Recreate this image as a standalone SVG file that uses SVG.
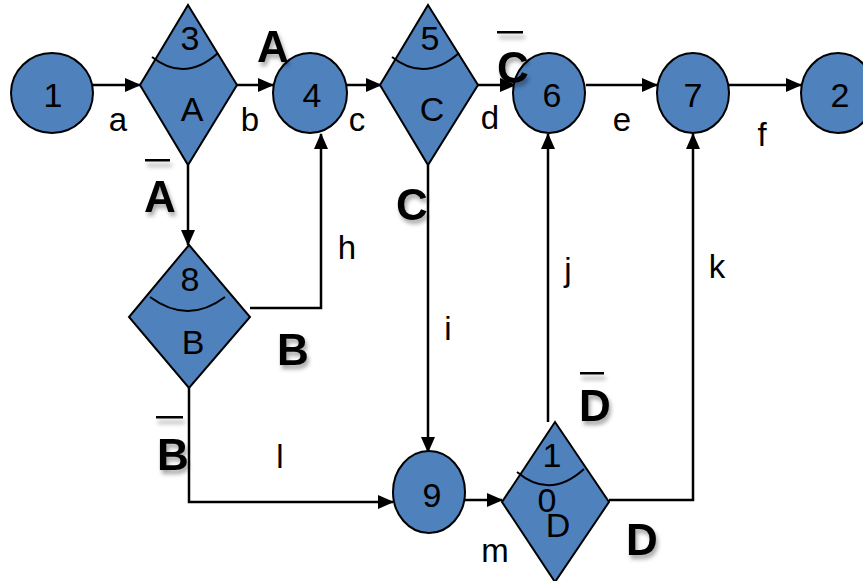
<svg xmlns="http://www.w3.org/2000/svg" width="863" height="581" viewBox="0 0 863 581">
<defs>
<marker id="arr" markerUnits="userSpaceOnUse" markerWidth="16" markerHeight="14" refX="15" refY="7" orient="auto">
<path d="M0,0 L16,7 L0,14 Z" fill="#000"/>
</marker>
<filter id="sh" x="-30%" y="-30%" width="160%" height="160%">
<feDropShadow dx="2" dy="4" stdDeviation="2" flood-color="#000" flood-opacity="0.35"/>
</filter>
<filter id="shb" filterUnits="userSpaceOnUse" x="0" y="0" width="863" height="581">
<feDropShadow dx="2" dy="5" stdDeviation="2" flood-color="#000" flood-opacity="0.35"/>
</filter>
<style>
.n{fill:#4F81BD;stroke:#000;stroke-width:2}
.arc{fill:none;stroke:#000;stroke-width:2}
.t{font-family:"Liberation Sans",Arial,sans-serif;font-size:34px;fill:#000;text-anchor:middle}
.lb{font-family:"Liberation Sans",Arial,sans-serif;font-size:33px;fill:#000;text-anchor:middle}
.bl{font-family:"Liberation Sans",Arial,sans-serif;font-size:44px;font-weight:bold;fill:#000;text-anchor:middle;filter:url(#sh)}
.bar{fill:#000;filter:url(#shb)}
.c{fill:none;stroke:#000;stroke-width:2.5}
</style>
</defs>
<g id="connectors">
<line class="c" x1="93" y1="85" x2="140" y2="85" marker-end="url(#arr)"/>
<line class="c" x1="229" y1="85" x2="273" y2="85" marker-end="url(#arr)"/>
<line class="c" x1="346" y1="85" x2="381" y2="85" marker-end="url(#arr)" stroke="#333"/>
<line class="c" x1="478" y1="85" x2="515" y2="85" marker-end="url(#arr)" stroke="#333"/>
<line class="c" x1="586" y1="85" x2="657" y2="85" marker-end="url(#arr)"/>
<line class="c" x1="729" y1="85" x2="801" y2="85" marker-end="url(#arr)"/>
<line class="c" x1="188" y1="165" x2="188" y2="245" marker-end="url(#arr)" stroke-width="2"/>
<polyline class="c" points="250,308 321,308 321,134" marker-end="url(#arr)" stroke-width="2"/>
<line class="c" x1="428" y1="165" x2="428" y2="452" marker-end="url(#arr)" stroke-width="2"/>
<polyline class="c" points="189,388 189,502 393,502" marker-end="url(#arr)"/>
<line class="c" x1="465" y1="500" x2="502" y2="500" marker-end="url(#arr)" stroke="#333"/>
<line class="c" x1="548" y1="422" x2="548" y2="134" marker-end="url(#arr)"/>
<polyline class="c" points="609,500 693,500 693,134" marker-end="url(#arr)"/>
</g>
<g id="node1"><ellipse class="n" cx="52" cy="93" rx="41" ry="40"/><text class="t" x="53" y="107">1</text></g>
<g id="node3"><polygon class="n" points="188,5 237,85 188,165 140,85"/><path class="arc" d="M152,57 Q185,83 218,53"/><text class="t" x="190" y="50">3</text><text class="t" x="192" y="121">A</text></g>
<g id="node4"><ellipse class="n" cx="310" cy="93" rx="37" ry="40"/><text class="t" x="312" y="107">4</text></g>
<g id="node5"><polygon class="n" points="428,5 478,85 428,165 380,85"/><path class="arc" d="M392,57 Q425,83 459,53"/><text class="t" x="430" y="50">5</text><text class="t" x="432" y="121">C</text></g>
<g id="node6"><ellipse class="n" cx="549" cy="93" rx="36" ry="40"/><text class="t" x="552" y="107">6</text></g>
<g id="node7"><ellipse class="n" cx="693" cy="93" rx="36" ry="40"/><text class="t" x="693" y="107">7</text></g>
<g id="node2"><ellipse class="n" cx="838" cy="93" rx="37" ry="40"/><text class="t" x="840" y="107">2</text></g>
<g id="node8"><polygon class="n" points="189,245 250,317 189,388 129,317"/><path class="arc" d="M150,297 Q188,325 225,297"/><text class="t" x="190" y="291">8</text><text class="t" x="193" y="354">B</text></g>
<g id="node9"><ellipse class="n" cx="429" cy="492" rx="36" ry="41"/><text class="t" x="432" y="507">9</text></g>
<g id="node10"><polygon class="n" points="555,422 609,502 555,582 502,502"/><path class="arc" d="M517,472 Q550,500 584,469"/><text class="t" x="552" y="467">1</text><text class="t" x="547" y="512">0</text><text class="t" x="558" y="537">D</text></g>
<g id="labels">
<text class="lb" x="118" y="131">a</text>
<text class="lb" x="250" y="131">b</text>
<text class="lb" x="357" y="131">c</text>
<text class="lb" x="490" y="129">d</text>
<text class="lb" x="622" y="131">e</text>
<text class="lb" x="762" y="146">f</text>
<text class="lb" x="347" y="259">h</text>
<text class="lb" x="448" y="340">i</text>
<text class="lb" x="568" y="281">j</text>
<text class="lb" x="717" y="278">k</text>
<text class="lb" x="280" y="468">l</text>
<text class="lb" x="495" y="562">m</text>
<text class="bl" x="273" y="62">A</text>
<text class="bl" x="513" y="83">C</text><rect class="bar" x="497" y="31" width="26" height="2.5"/>
<text class="bl" x="160" y="212">A</text><rect class="bar" x="145" y="159" width="25" height="2.5"/>
<text class="bl" x="293" y="365">B</text>
<text class="bl" x="412" y="220">C</text>
<text class="bl" x="173" y="470">B</text><rect class="bar" x="156" y="416" width="27" height="2.5"/>
<text class="bl" x="595" y="421">D</text><rect class="bar" x="580" y="372" width="24" height="2.5"/>
<text class="bl" x="642" y="555">D</text>
</g>
</svg>
